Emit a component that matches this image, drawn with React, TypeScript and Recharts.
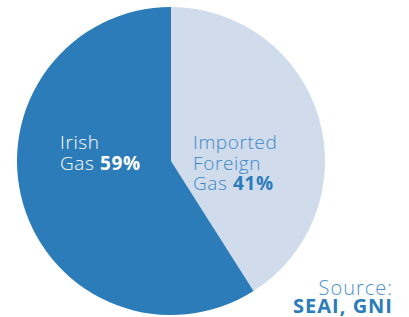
import React from "react";
import { PieChart, Pie, Cell } from "recharts";

const categories = ["Imported Foreign Gas", "Irish Gas"];
const shares = [41, 59];
const labelLines = [["Imported", "Foreign", "Gas"], ["Irish", "Gas"]];
const sourceLines = ["Source:", "SEAI, GNI"];

const COLORS = ["#d0dcec", "#2c7cb9"];
const TEXT_COLORS = ["#3b88c6", "#ffffff"];
const BOLD_COLORS = ["#2c7cb9", "#ffffff"];

const data = categories.map((name, i) => ({ name, value: shares[i] }));

const FONT = "'Open Sans', Lato, sans-serif";

const renderLabel = (props: any) => {
  const { cx, cy, index } = props;
  const lines = labelLines[index];
  const x = index === 0 ? cx + 22 : cx - 111;
  const y0 = cy - 12;
  return (
    <g>
      {lines.map((l, i) => (
        <text
          key={i}
          x={x}
          y={y0 + i * 20.7}
          fill={TEXT_COLORS[index]}
          fontFamily={FONT}
          fontSize={19}
          fontWeight={300}
          letterSpacing={0.6}
          textAnchor="start"
        >
          {l}
          {i === lines.length - 1 ? (
            <tspan fontWeight={700} fill={BOLD_COLORS[index]}>
              {" " + shares[index] + "%"}
            </tspan>
          ) : null}
        </text>
      ))}
    </g>
  );
};

export default function App() {
  return (
    <div style={{ position: "absolute", left: 0, top: 0, width: 409, height: 317, background: "#fff" }}>
      <PieChart width={409} height={317} margin={{ top: 0, right: 0, bottom: 0, left: 0 }}>
        <Pie
          data={data}
          dataKey="value"
          nameKey="name"
          cx={171}
          cy={161}
          outerRadius={154}
          innerRadius={0}
          startAngle={90}
          endAngle={-270}
          stroke="none"
          labelLine={false}
          label={renderLabel}
          isAnimationActive={false}
        >
          {data.map((d, i) => (
            <Cell key={d.name} fill={COLORS[i]} />
          ))}
        </Pie>
        <text
          x={393}
          y={295}
          textAnchor="end"
          fontFamily={FONT}
          fontSize={20}
          fontWeight={300}
          letterSpacing={1}
          fill="#4a90cf"
        >
          {sourceLines[0]}
        </text>
        <text
          x={393}
          y={313}
          textAnchor="end"
          fontFamily={FONT}
          fontSize={20}
          fontWeight={700}
          letterSpacing={1}
          fill="#2c7cb9"
        >
          {sourceLines[1]}
        </text>
      </PieChart>
    </div>
  );
}
